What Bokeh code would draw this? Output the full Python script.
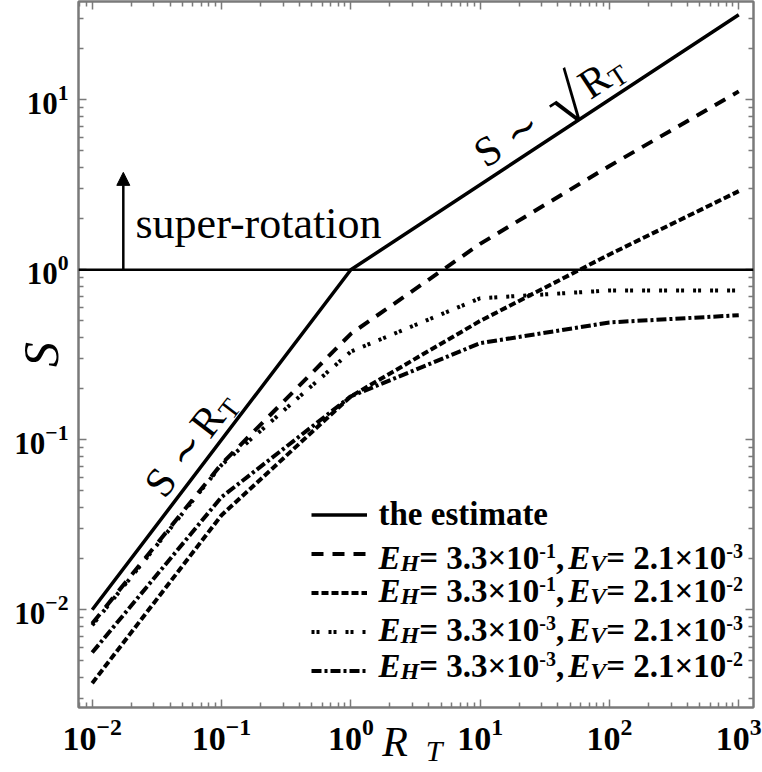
import math
from bokeh.plotting import figure
from bokeh.models import (Range1d, FixedTicker, LogAxis, Span, Arrow, NormalHead, Label,
                          Legend, LegendItem, CustomJSTickFormatter)
from bokeh.embed import file_html
from bokeh.resources import INLINE

# ---------------- data ----------------
rt = [0.01, 0.1, 1, 10, 100, 1000]
est_rt = [0.01, 1, 1000]
est_s = [0.01, 1.0, 31.6]
s_a = [0.0083, 0.072, 0.42, 1.42, 4.08, 11.2]     # EH=3.3e-1, EV=2.1e-3
s_b = [0.0037, 0.036, 0.18, 0.50, 1.23, 2.90]     # EH=3.3e-1, EV=2.1e-2
s_c = [0.0081, 0.071, 0.33, 0.68, 0.755, 0.755]   # EH=3.3e-3, EV=2.1e-3
s_d = [0.0056, 0.046, 0.18, 0.37, 0.49, 0.54]     # EH=3.3e-3, EV=2.1e-2
eh_mant = ["3.3", "3.3", "3.3", "3.3"]
eh_exp = ["-1", "-1", "-3", "-3"]
ev_mant = ["2.1", "2.1", "2.1", "2.1"]
ev_exp = ["-3", "-2", "-3", "-2"]
estimate_label = "the estimate"
x_ticks = [0.01, 0.1, 1, 10, 100, 1000]
y_ticks = [0.01, 0.1, 1, 10]
threshold = 1.0
arrow_rt = 0.0174
arrow_top = 3.74

# ---------------- figure ----------------
GRAY = "#7a7a7a"
p = figure(width=762, height=772, x_axis_type="log", y_axis_type="log",
           x_range=Range1d(10 ** -2.106, 10 ** 3.114),
           y_range=Range1d(10 ** -2.575, 10 ** 1.578),
           output_backend="svg", toolbar_location=None,
           min_border_left=78, min_border_right=9, min_border_top=1, min_border_bottom=65)
p.grid.visible = False
p.background_fill_color = "white"
p.border_fill_color = "white"
p.outline_line_color = GRAY
p.outline_line_width = 2

x_minor = [m * 10.0 ** k for k in range(-3, 4) for m in range(2, 10)]
y_minor = [m * 10.0 ** k for k in range(-3, 2) for m in range(2, 10)]


def style_axis(ax):
    ax.axis_line_color = GRAY
    ax.axis_line_width = 2
    ax.major_tick_line_color = GRAY
    ax.minor_tick_line_color = GRAY
    ax.major_tick_line_width = 1.5
    ax.minor_tick_line_width = 1.5
    ax.major_tick_in = 8
    ax.major_tick_out = 0
    ax.minor_tick_in = 5
    ax.minor_tick_out = 0


xa = p.xaxis[0]
ya = p.yaxis[0]
xa.ticker = FixedTicker(ticks=x_ticks, minor_ticks=x_minor)
ya.ticker = FixedTicker(ticks=y_ticks, minor_ticks=y_minor)
for ax, sz, so in ((xa, "34px", 11), (ya, "31px", 10)):
    style_axis(ax)
    ax.major_label_text_font = "Liberation Serif"
    ax.major_label_text_font_style = "bold"
    ax.major_label_text_font_size = sz
    ax.major_label_text_color = "black"
    ax.major_label_standoff = so

# axis titles (S on the left, R_T below, pulled into the tick-label band)
ya.axis_label = "S"
ya.axis_label_text_font = "Liberation Serif"
ya.axis_label_text_font_style = "italic"
ya.axis_label_text_font_size = "50px"
ya.axis_label_text_color = "black"
ya.axis_label_standoff = -58

xa.axis_label = "R\u2002\u2002"
xa.axis_label_text_font = "Liberation Serif"
xa.axis_label_text_font_style = "italic"
xa.axis_label_text_font_size = "42px"
xa.axis_label_text_color = "black"
xa.axis_label_standoff = -34

for place, tk, mn in (("above", x_ticks, x_minor), ("right", y_ticks, y_minor)):
    ax = LogAxis(ticker=FixedTicker(ticks=tk, minor_ticks=mn),
                 formatter=CustomJSTickFormatter(code="return ''"),
                 major_label_text_font_size="0px", major_label_standoff=0)
    style_axis(ax)
    p.add_layout(ax, place)

sub_axis = LogAxis(ticker=FixedTicker(ticks=[]), axis_line_alpha=0,
                   major_tick_in=0, major_tick_out=0, minor_tick_in=0, minor_tick_out=0,
                   formatter=CustomJSTickFormatter(code="return ''"),
                   major_label_text_font_size="0px", major_label_standoff=0,
                   axis_label="\u2003\u2009T", axis_label_text_font="Liberation Serif",
                   axis_label_text_font_style="italic", axis_label_text_font_size="30px",
                   axis_label_text_color="black", axis_label_standoff=-34)
p.add_layout(sub_axis, "below")

# ---------------- marks ----------------
p.add_layout(Span(location=threshold, dimension="width", line_color="black", line_width=2.5))

r_est = p.line(est_rt, est_s, line_color="black", line_width=3.5)
r_a = p.line(rt, s_a, line_color="black", line_width=4, line_dash="12 9")
r_b = p.line(rt, s_b, line_color="black", line_width=4, line_dash="7 3")
r_c = p.line(rt, s_c, line_color="black", line_width=4, line_dash="3 2 3 9")
r_d = p.line(rt, s_d, line_color="black", line_width=4, line_dash="10 3 3 3")

p.add_layout(Arrow(end=NormalHead(size=13, fill_color="black", line_color="black", line_width=1),
                   x_start=arrow_rt, y_start=threshold, x_end=arrow_rt, y_end=arrow_top,
                   line_color="black", line_width=2.5))

legend = Legend(items=[LegendItem(label=" ", renderers=[r]) for r in (r_est, r_a, r_b, r_c, r_d)],
                location=(233, 17.5), orientation="vertical",
                glyph_width=56, glyph_height=39, label_height=39, label_width=0,
                label_standoff=0, spacing=0, padding=0, margin=0,
                label_text_font_size="1px", border_line_alpha=0, background_fill_alpha=0)
p.add_layout(legend)


# ---------------- texts ----------------
BASE_FIX = 0.24   # Bokeh draws "alphabetic" labels this fraction of the size too low


def add_text(x, y, text, size, style="normal", font="Liberation Serif", angle=0):
    t = math.radians(angle)
    x -= BASE_FIX * size * math.sin(t)
    y += BASE_FIX * size * math.cos(t)
    p.add_layout(Label(x=x, y=y, x_units="screen", y_units="screen", text=text,
                       text_font=font, text_font_size=f"{size}px", text_font_style=style,
                       text_color="black", angle=angle, angle_units="deg",
                       text_align="left", text_baseline="alphabetic", text_line_height=1.0))


def along(ox, oy, ang, a, perp):
    t = math.radians(ang)
    return ox + a * math.cos(t) - perp * math.sin(t), oy + a * math.sin(t) + perp * math.cos(t)


def rotated(origin, ang, pieces):
    for text, a, perp, size, font in pieces:
        x, y = along(origin[0], origin[1], ang, a, perp)
        add_text(x, y, text, size, font=font, angle=ang)


# S ~ R_T (lower branch)
rotated((83, 210), 52.7, [("S", 0, 0, 42, "Liberation Serif"),
                          ("\u223c", 36, 0, 40, "DejaVu Serif"),
                          ("R", 75, 0, 42, "Liberation Serif"),
                          ("T", 103, -7, 28, "Liberation Serif")])
# S ~ sqrt(R_T) (upper branch)
rotated((405, 542), 33.3, [("S", 0, 0, 42, "Liberation Serif"),
                           ("\u223c", 35, 0, 40, "DejaVu Serif"),
                           ("\u221a", 86, -8, 66, "Liberation Serif"),
                           ("R", 125, 0, 42, "Liberation Serif"),
                           ("T", 153, -6, 28, "Liberation Serif")])

add_text(57, 473.7, "super-rotation", 44)

# legend rich labels
BOLD = {".": .25, ",": .25, "-": .333, "=": .570, "\u00d7": .570, " ": .25}
BOLD.update({d: .5 for d in "0123456789"})
BI = {"E": .667, "H": .778, "V": .667}
F, SUB, SUP = 33, 24, 20
row_base = [185.3, 142, 109, 70, 34]
x0 = 300
add_text(x0, row_base[0], estimate_label, F, style="bold")
for i in range(4):
    pieces = [("E", BI, F, 0), ("H", BI, SUB, -3), ("= " + eh_mant[i] + "\u00d710", BOLD, F, 0),
              (eh_exp[i], BOLD, SUP, 10), (",", BOLD, F, 0), ("E", BI, F, 0), ("V", BI, SUB, -3),
              ("= " + ev_mant[i] + "\u00d710", BOLD, F, 0), (ev_exp[i], BOLD, SUP, 10)]
    x = x0
    for text, table, size, dy in pieces:
        style = "bold italic" if table is BI else "bold"
        add_text(x, row_base[i + 1] + dy, text, size, style=style)
        x += sum(table[c] for c in text) * size
        if text == ",":
            x += 4

open("out.html", "w").write(file_html(p, INLINE))
